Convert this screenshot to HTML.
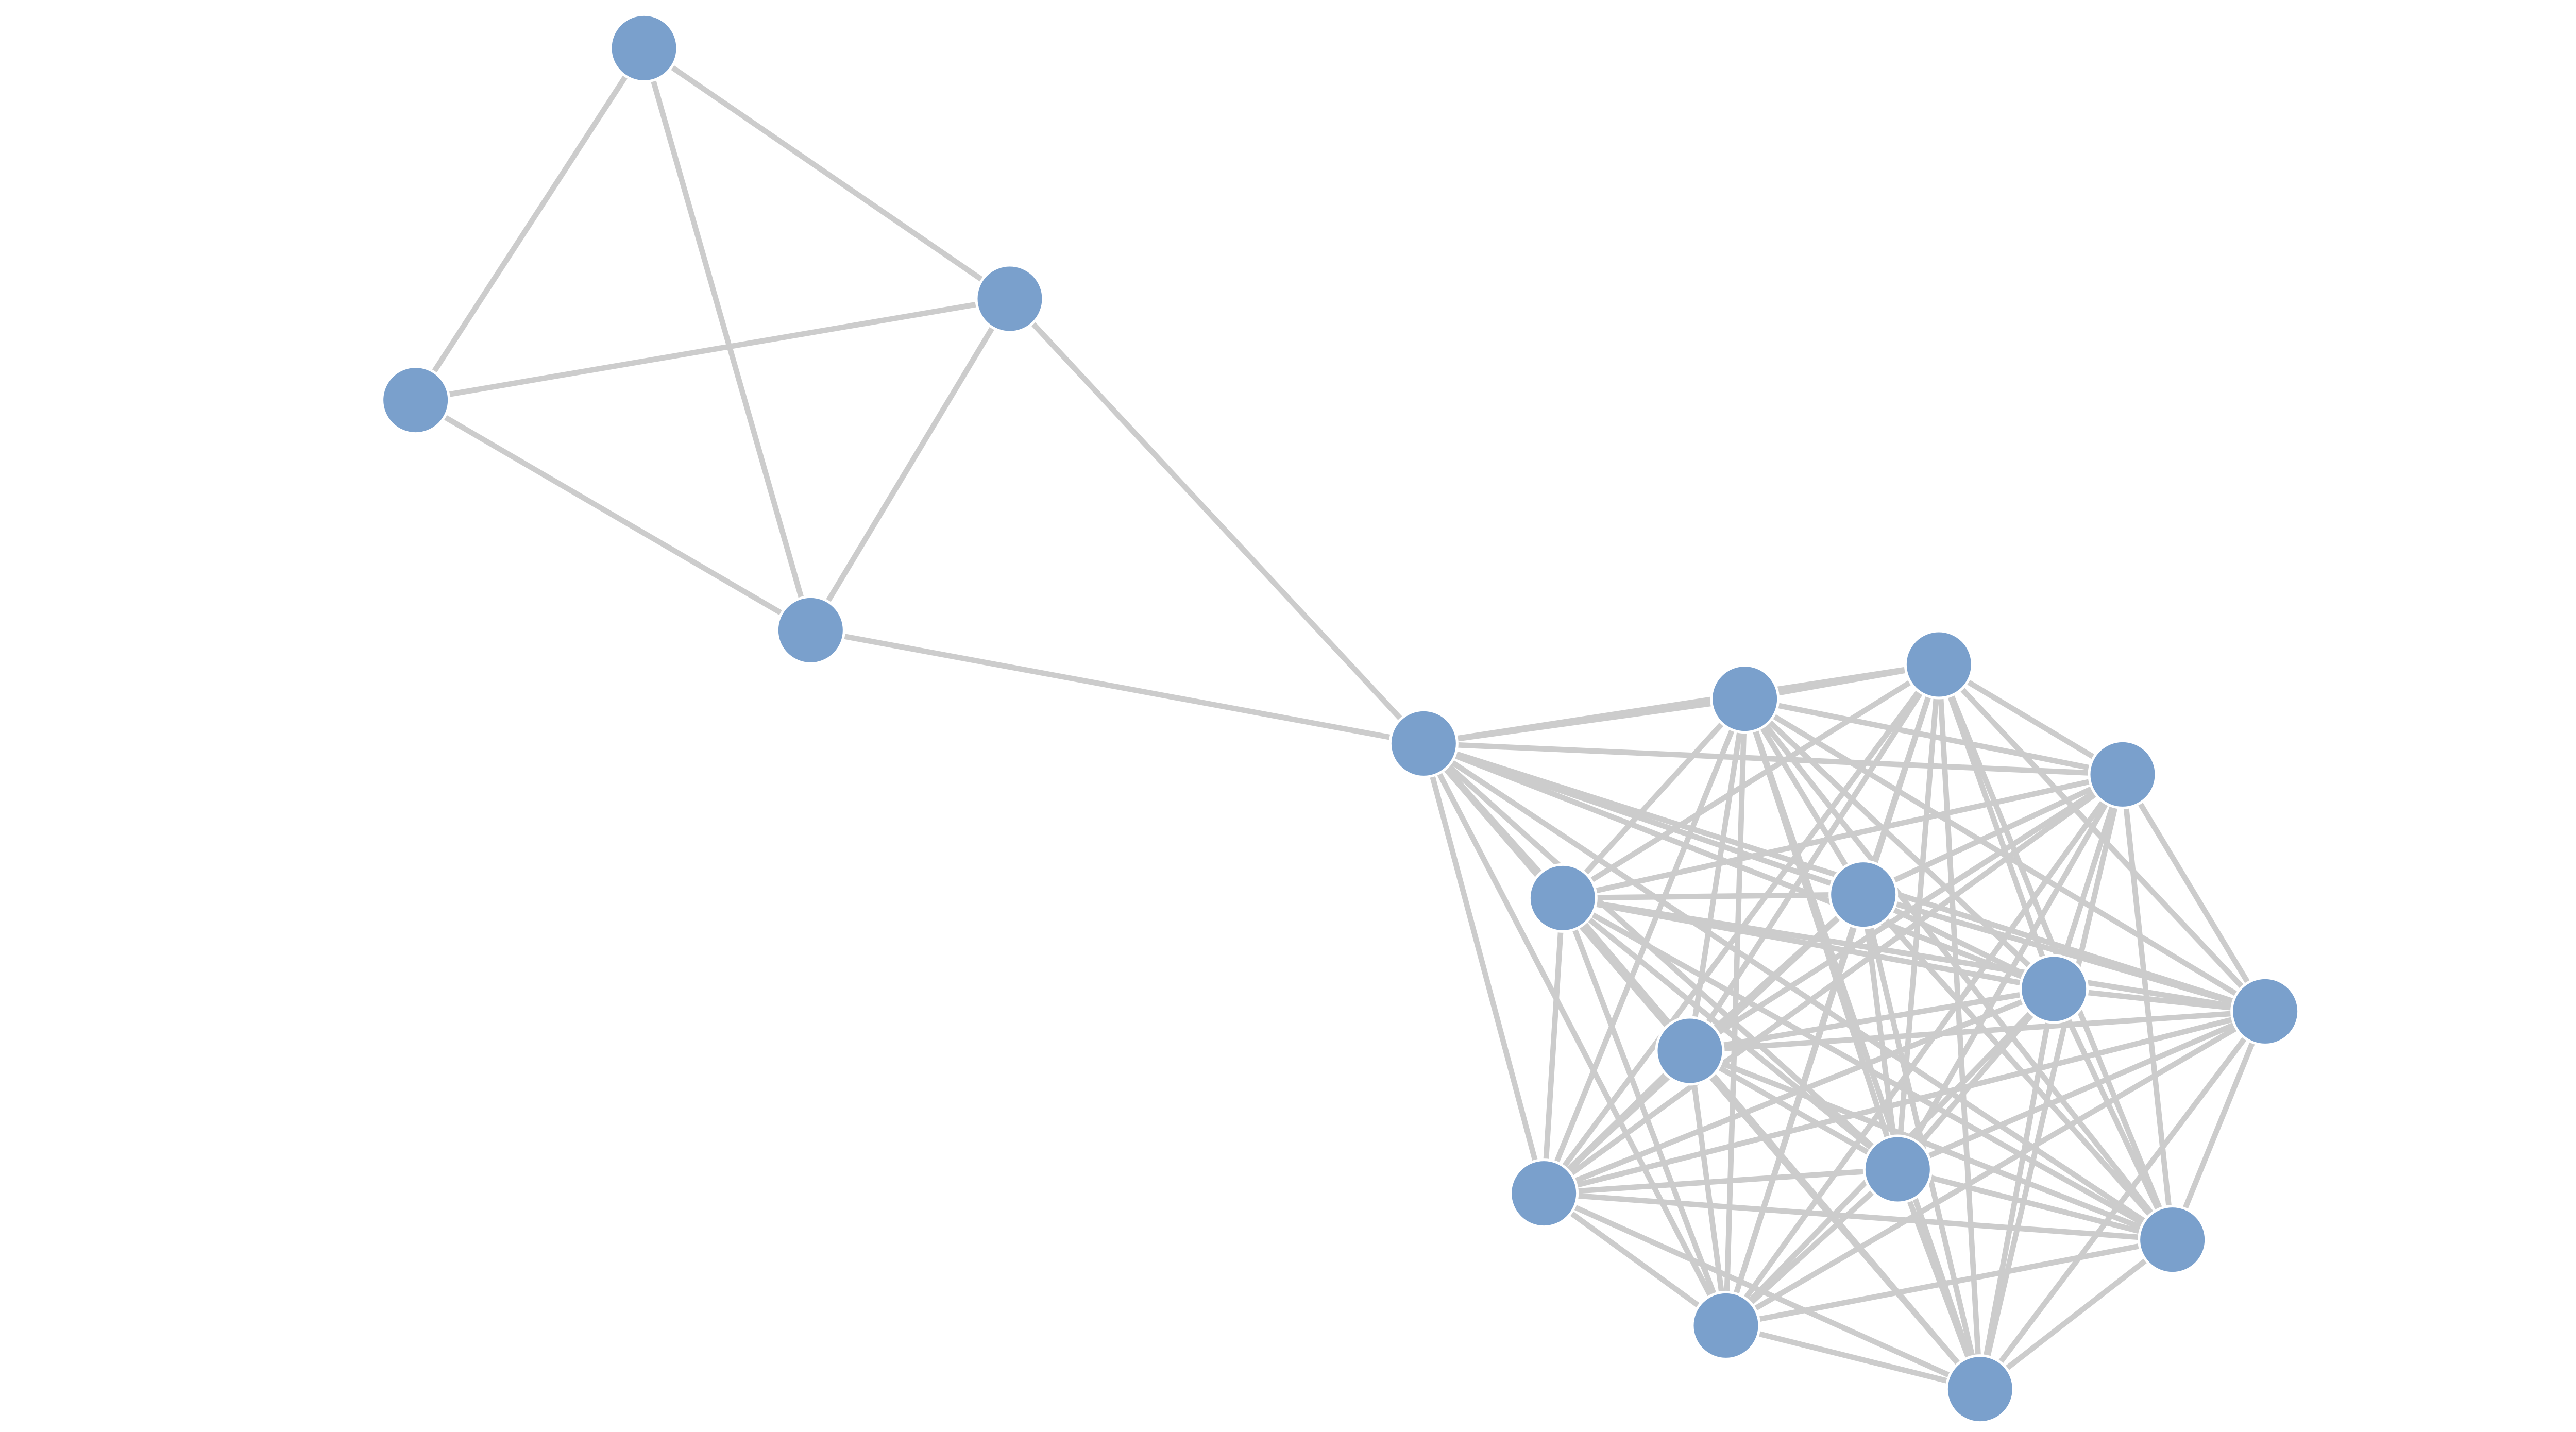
<!DOCTYPE html>
<html><head><meta charset="utf-8"><style>html,body{margin:0;padding:0;background:#fff}svg{display:block}</style></head>
<body>
<svg id="g" width="5200" height="2780" viewBox="0 0 1560 834" xmlns="http://www.w3.org/2000/svg">
<g id="e" stroke="#cccccc" stroke-width="3.2" fill="none"></g>
<g id="n" fill="#7aa0cc" stroke="#ffffff" stroke-width="1.5"></g>
</svg>
<script>
var P={A:[375,28],B:[242,233],C:[588,174],D:[472,367],E:[829,433],F:[1016,407],G:[1129,387],H:[1236,451],I:[910,523],J:[1085,521],K:[1196,576],L:[1319,589],M:[984,612],N:[1105,681],O:[899,695],Pn:[1265,722],Q:[1005,772],R:[1153,809]};
var E=[["A","B"],["A","C"],["A","D"],["B","C"],["B","D"],["C","D"],["C","E"],["D","E"]];
var cl=["F","G","H","I","J","K","L","M","N","O","Pn","Q","R"];
for(var i=0;i<cl.length;i++){E.push(["E",cl[i]]);for(var j=i+1;j<cl.length;j++)E.push([cl[i],cl[j]]);}
var ns="http://www.w3.org/2000/svg",ge=document.getElementById("e"),gn=document.getElementById("n");
E.forEach(function(x){var l=document.createElementNS(ns,"line");l.setAttribute("x1",P[x[0]][0]);l.setAttribute("y1",P[x[0]][1]);l.setAttribute("x2",P[x[1]][0]);l.setAttribute("y2",P[x[1]][1]);ge.appendChild(l);});
for(var k in P){var c=document.createElementNS(ns,"circle");c.setAttribute("cx",P[k][0]);c.setAttribute("cy",P[k][1]);c.setAttribute("r",19.5);gn.appendChild(c);}
</script>
</body></html>
